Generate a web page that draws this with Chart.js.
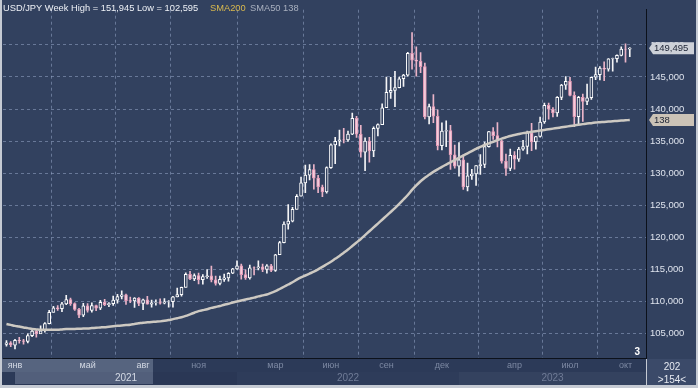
<!DOCTYPE html>
<html><head><meta charset="utf-8">
<script src="https://cdn.jsdelivr.net/npm/chart.js@4.4.0/dist/chart.umd.min.js"></script>
<style>
html,body{margin:0;padding:0;background:#c5cad3;}
canvas{display:block;}
</style></head><body>
<canvas id="c" width="698" height="388"></canvas>
<script>
// ---- categories: weekly candles starting Monday 2020-12-21 ----
const firstWeek = '2020-12-21';
const weekCount = 147;
const weeks = [];
for (let i = 0; i < weekCount; i++) {
  const d = new Date(Date.UTC(2020, 11, 21 + 7 * i));
  weeks.push(d.toISOString().slice(0, 10));
}

// ---- series values (USD/JPY weekly OHLC) ----
const open = [
103.30,103.55,
103.20,103.94,103.86,103.78,104.68,105.40,104.96,105.44,106.56,108.30,109.03,108.88,109.64,110.28,109.66,108.78,
107.88,109.31,108.59,109.36,108.96,109.85,109.50,109.66,110.21,110.78,111.05,110.14,110.07,110.55,109.71,110.25,
109.57,109.80,109.84,109.72,109.93,109.96,110.73,111.06,112.21,114.22,113.50,114.02,113.40,113.88,114.00,113.38,
112.80,113.44,113.68,114.40,
115.08,115.56,114.20,113.68,115.26,115.24,115.42,115.01,115.55,114.83,117.29,119.17,122.05,122.53,124.35,126.40,
128.49,129.70,130.56,129.23,127.85,127.10,130.86,134.41,134.98,135.21,135.20,136.10,138.54,136.10,133.28,135.01,
133.46,137.00,137.58,140.20,142.61,142.92,143.35,144.73,145.30,148.69,147.64,147.47,146.61,138.77,140.40,138.88,
134.31,136.55,136.66,132.87,
131.10,132.08,127.88,129.58,129.88,131.19,131.36,134.14,136.47,135.86,135.05,131.88,130.73,132.80,132.20,133.75,
134.16,136.28,134.86,135.72,137.98,140.60,139.97,139.38,141.82,143.72,144.32,142.13,138.82,141.81,141.19,141.77,
144.96,145.36,146.40,146.22,147.83,147.86,148.38,149.35,149.32
];
const high = [
103.90,103.75,
104.10,104.40,104.10,104.94,105.77,105.65,106.22,106.70,108.64,109.23,109.36,109.85,110.97,110.55,109.79,108.92,
109.70,109.69,109.79,109.45,110.20,110.33,109.84,110.83,111.12,111.66,111.15,110.70,110.59,110.60,110.37,110.80,
110.21,110.25,110.42,110.45,110.15,110.80,112.08,112.25,114.47,114.70,114.31,114.44,114.18,114.98,115.52,113.95,
113.95,114.26,114.49,115.16,
116.35,115.84,114.95,115.69,115.40,116.34,115.82,115.76,115.80,117.35,119.39,122.43,125.10,124.69,126.68,129.41,
131.25,131.35,131.35,129.67,128.16,130.99,134.56,135.60,136.71,137.00,136.57,139.39,138.88,137.46,135.50,135.58,
137.23,137.70,140.80,144.99,144.96,145.90,144.99,145.43,148.86,151.94,149.70,148.82,147.15,140.79,142.25,139.88,
137.86,138.17,137.48,134.40,
134.78,132.87,131.58,130.62,131.20,132.90,134.85,136.52,137.10,137.91,135.12,133.00,133.76,133.39,134.02,135.14,
136.56,137.77,135.76,138.74,140.93,140.93,140.23,141.95,143.87,145.07,144.94,142.68,142.00,142.34,143.89,145.00,
146.56,146.64,147.37,147.87,147.95,148.47,149.71,150.16,149.60
];
const low = [
103.05,102.95,
102.59,103.52,103.33,103.55,104.50,104.42,104.98,105.20,106.50,108.34,108.60,108.41,109.50,109.40,108.61,107.48,
107.65,108.34,108.34,108.56,108.73,109.33,109.19,109.40,109.72,110.42,109.53,109.80,109.07,109.36,108.72,109.57,
109.11,109.42,109.59,109.61,109.11,109.12,110.70,110.82,112.22,113.41,113.26,112.73,112.70,113.58,113.06,112.53,
112.60,113.14,113.15,114.32,
115.00,113.48,113.46,113.47,114.15,114.91,114.65,114.41,114.65,114.70,117.33,119.15,121.29,122.39,124.39,126.40,
126.95,128.94,127.52,126.95,126.36,126.87,130.74,131.50,134.27,134.74,134.94,135.99,135.57,132.51,130.40,131.73,
132.56,135.81,137.55,140.30,141.66,140.36,143.28,143.52,145.11,146.23,145.11,145.68,138.48,137.68,137.86,133.62,
133.64,134.12,130.58,130.78,
129.52,127.46,127.22,129.02,128.08,129.80,130.87,134.05,135.26,134.11,131.56,129.64,130.40,130.63,131.82,133.54,
133.02,133.50,133.74,135.63,137.75,138.43,138.76,138.87,141.48,143.05,142.06,137.25,137.68,138.06,140.68,141.52,
144.60,144.54,144.44,145.90,145.91,147.32,148.30,147.31,148.15
];
const close = [
103.55,103.25,
103.94,103.86,103.78,104.68,105.40,104.96,105.44,106.56,108.30,109.03,108.88,109.64,110.28,109.66,108.78,107.88,
109.31,108.59,109.36,108.96,109.85,109.50,109.66,110.21,110.78,111.05,110.14,110.07,110.55,109.71,110.25,109.57,
109.80,109.84,109.72,109.93,109.96,110.73,111.06,112.21,114.22,113.50,114.02,113.40,113.88,114.00,113.38,112.80,
113.44,113.68,114.40,115.08,
115.56,114.20,113.68,115.26,115.24,115.42,115.01,115.55,114.83,117.29,119.17,122.05,122.53,124.35,126.40,128.49,
129.70,130.56,129.23,127.85,127.10,130.86,134.41,134.98,135.21,135.20,136.10,138.54,136.10,133.28,135.01,133.46,
137.00,137.58,140.20,142.61,142.92,143.35,144.73,145.30,148.69,147.64,147.47,146.61,138.77,140.40,138.88,134.31,
136.55,136.66,132.87,131.10,
132.08,127.88,129.58,129.88,131.19,131.36,134.14,136.47,135.86,135.05,131.88,130.73,132.80,132.20,133.75,134.16,
136.28,134.86,135.72,137.98,140.60,139.97,139.38,141.82,143.72,144.32,142.13,138.82,141.81,141.19,141.77,144.96,
145.36,146.40,146.22,147.83,147.86,148.38,149.35,149.32,149.50
];
// 50-week simple moving average as drawn on the chart
const sma50 = [
106.50,106.35,
106.20,106.10,105.95,105.85,105.70,105.65,105.60,105.60,105.60,105.60,105.60,105.65,105.70,105.70,105.72,105.75,
105.78,105.80,105.85,105.90,105.95,106.00,106.07,106.13,106.20,106.26,106.32,106.38,106.50,106.60,106.70,106.75,
106.80,106.85,106.90,106.98,107.10,107.25,107.40,107.55,107.75,108.00,108.25,108.50,108.65,108.80,109.00,109.15,
109.30,109.50,109.65,109.85,
110.00,110.15,110.30,110.45,110.60,110.80,110.95,111.10,111.35,111.60,111.95,112.30,112.65,113.00,113.40,113.75,
114.05,114.35,114.65,115.00,115.40,115.80,116.20,116.65,117.10,117.60,118.10,118.65,119.20,119.75,120.35,120.95,
121.55,122.15,122.75,123.35,123.95,124.55,125.20,125.90,126.60,127.40,128.10,128.75,129.30,129.75,130.20,130.60,
131.00,131.35,131.70,132.05,
132.40,132.75,133.10,133.45,133.80,134.10,134.40,134.65,134.90,135.15,135.40,135.60,135.80,135.95,136.10,136.25,
136.35,136.45,136.55,136.65,136.75,136.85,136.95,137.05,137.15,137.25,137.35,137.45,137.55,137.65,137.75,137.80,
137.90,137.95,138.00,138.05,138.10,138.15,138.20,138.25,138.30
];

// ---- tick labels ----
const yTicks = [105, 110, 115, 120, 125, 130, 135, 140, 145, 150];
const monthTickWeeks = ['2021-01-04','2021-05-03','2021-08-02','2021-11-01','2022-03-07','2022-06-06','2022-09-05','2022-12-05','2023-04-03','2023-07-03','2023-10-02'];
const monthLabels = ['янв','май','авг','ноя','мар','июн','сен','дек','апр','июл','окт'];
const yearStartWeeks = ['2021-01-04','2022-01-03','2023-01-02'];
const yearLabels = ['2021','2022','2023'];
const titleText = 'USD/JPY Week High = 151,945 Low = 102,595';
const legendSma200 = 'SMA200';
const legendSma50 = 'SMA50 138';
const lastPriceText = '149,495';
const lastPrice = 149.495;
const smaLabel = '138';
const cornerCount = '3';
const infoTop = '202';
const infoBottom = '>154<';

// ---- styling ----
const BG = '#32415f';
const GRID = 'rgba(150,165,198,0.55)';
const BULL_FILL = BG, BULL_LINE = '#ffffff';
const BEAR_FILL = '#f3cddb', BEAR_LINE = '#e39ab6';
const FONT = '"Liberation Sans", Arial, sans-serif';

const isBull = close.map((c, i) => c >= open[i]);
const fmt = v => v.toFixed(3).replace('.', ',');

const bgPlugin = {
  id: 'bg',
  beforeDraw(chart) {
    const c = chart.ctx, a = chart.chartArea, W = chart.width, H = chart.height;
    const xs = chart.scales.x;
    c.save();
    c.fillStyle = '#c5cad3'; c.fillRect(0, 0, W, H);
    c.fillStyle = BG; c.fillRect(2, 0, W - 4, a.bottom + 1);
    // bottom panel
    const r1 = a.bottom + 1, r2 = a.bottom + 14, r3 = H - 3;
    c.fillStyle = '#2c3a58'; c.fillRect(2, r1, a.right - 2, r3 - r1);
    // year bands on second row
    const yPix = yearStartWeeks.map(d => xs.getPixelForValue(weeks.indexOf(d)));
    const bandCols = ['#2a3755', '#2e3c5a', '#34425f'];
    yPix.forEach((p, k) => {
      const e = k < yPix.length - 1 ? yPix[k + 1] : a.right;
      c.fillStyle = bandCols[k]; c.fillRect(p, r2, e - p, r3 - r2);
    });
    // highlighted range
    c.fillStyle = '#56647f'; c.fillRect(2, r1, 151, r2 - r1);
    c.fillStyle = '#525f7b'; c.fillRect(yPix[0], r2, 153 - yPix[0], r3 - r2 - 1);
    // right info box
    c.fillStyle = '#3b4a69'; c.fillRect(a.right + 1, r1, W - a.right - 3, r3 - r1);
    c.restore();
  },
  afterDraw(chart) {
    const c = chart.ctx, a = chart.chartArea, W = chart.width, H = chart.height;
    const xs = chart.scales.x, ys = chart.scales.y;
    c.save();
    c.textBaseline = 'middle';
    // title
    c.font = '9.3px ' + FONT;
    c.fillStyle = '#eef1f6'; c.textAlign = 'left';
    c.fillText(titleText, 3, 8);
    c.fillStyle = '#d9b94e'; c.fillText(legendSma200, 210, 8);
    c.fillStyle = '#a9b0bf'; c.fillText(legendSma50, 250, 8);
    // value tags
    const tag = (y, text, fill, color) => {
      const x0 = a.right + 3, x1 = W - 4, h = 12;
      c.beginPath();
      c.moveTo(x0, y);
      c.lineTo(x0 + 4, y - h / 2); c.lineTo(x1, y - h / 2);
      c.lineTo(x1, y + h / 2); c.lineTo(x0 + 4, y + h / 2); c.closePath();
      c.fillStyle = fill; c.fill();
      c.fillStyle = color; c.textAlign = 'left';
      c.font = '9.5px ' + FONT;
      c.fillText(text, x0 + 5, y + 0.5);
    };
    tag(ys.getPixelForValue(lastPrice), lastPriceText, '#cdd1d8', '#1b2233');
    tag(ys.getPixelForValue(sma50[sma50.length - 1]), smaLabel, '#cbc3b7', '#1b2233');
    // month labels
    c.font = '9px ' + FONT; c.textAlign = 'center';
    const r1 = a.bottom + 1;
    monthTickWeeks.forEach((d, k) => {
      const px = xs.getPixelForValue(weeks.indexOf(d));
      c.fillStyle = px < 153 ? '#d3d9e4' : '#7d89a3';
      c.fillText(monthLabels[k], px, r1 + 7);
    });
    // year labels
    c.font = '10px ' + FONT;
    yearStartWeeks.forEach((d, k) => {
      const p = xs.getPixelForValue(weeks.indexOf(d));
      const e = k < yearStartWeeks.length - 1 ? xs.getPixelForValue(weeks.indexOf(yearStartWeeks[k + 1])) : a.right;
      c.fillStyle = k === 0 ? '#d3d9e4' : '#6f7b96';
      c.fillText(yearLabels[k], (p + e) / 2, r1 + 19);
    });
    // corner count
    c.font = 'bold 10px ' + FONT; c.fillStyle = '#ffffff'; c.textAlign = 'right';
    c.fillText(cornerCount, a.right - 6, a.bottom - 6);
    // info box
    c.font = '10px ' + FONT; c.fillStyle = '#e6eaf1'; c.textAlign = 'center';
    const cx = (a.right + W) / 2;
    c.fillText(infoTop, cx, r1 + 8);
    c.fillText(infoBottom, cx, r1 + 21);
    c.restore();
  }
};

const ctx = document.getElementById('c').getContext('2d');
new Chart(ctx, {
  type: 'bar',
  data: {
    datasets: [
      {
        type: 'line', label: 'SMA50',
        data: sma50.map((v, i) => ({ x: i, y: v })),
        borderColor: '#cdc9c2', borderWidth: 2.5, pointRadius: 0, tension: 0.3,
        order: 0
      },
      {
        label: 'body',
        data: open.map((o, i) => ({ x: i, y: [o, close[i]] })),
        backgroundColor: isBull.map(b => b ? BULL_FILL : BEAR_FILL),
        borderColor: isBull.map(b => b ? BULL_LINE : BEAR_LINE),
        borderWidth: 1, borderSkipped: false, barThickness: 3,
        grouped: false, order: 1
      },
      {
        label: 'wick',
        data: low.map((l, i) => ({ x: i, y: [l, high[i]] })),
        backgroundColor: isBull.map(b => b ? '#f4f4f6' : '#eab4c8'),
        borderWidth: 0, barThickness: 1,
        grouped: false, order: 2
      }
    ]
  },
  options: {
    responsive: false, animation: false, devicePixelRatio: 1,
    layout: { padding: { left: 3, top: 2, right: 0, bottom: 0 } },
    plugins: { legend: { display: false }, tooltip: { enabled: false } },
    scales: {
      x: {
        type: 'linear', min: -0.81, max: 149.8, offset: false,
        afterBuildTicks: s => { s.ticks = monthTickWeeks.map(d => ({ value: weeks.indexOf(d) })); },
        afterFit: s => { s.height = 30; },
        ticks: { display: false },
        grid: { color: GRID, lineWidth: 1, drawTicks: false },
        border: { display: true, color: '#0c111b', width: 1, dash: [3, 3] }
      },
      y: {
        position: 'right', min: 101.19, max: 155.49,
        afterBuildTicks: s => { s.ticks = yTicks.map(v => ({ value: v })); },
        afterFit: s => { s.width = 52; },
        ticks: {
          color: '#dfe4ee', font: { family: FONT, size: 9.5 }, padding: 4,
          callback: v => fmt(v)
        },
        grid: { color: GRID, lineWidth: 1, drawTicks: false },
        border: { display: true, color: '#0c111b', width: 1, dash: [3, 3] }
      }
    }
  },
  plugins: [bgPlugin]
});
</script>
</body></html>
